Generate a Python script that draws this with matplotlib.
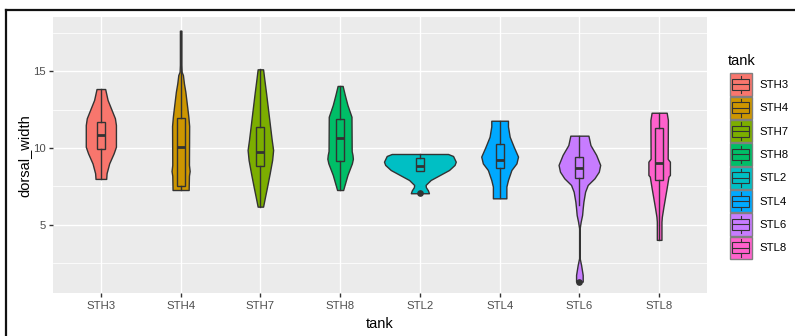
import matplotlib
matplotlib.use("Agg")
import matplotlib.pyplot as plt
import numpy as np
from matplotlib.patches import Patch, Rectangle
from matplotlib.lines import Line2D
from matplotlib.legend_handler import HandlerBase

plt.rcParams['font.family'] = ['Liberation Sans', 'DejaVu Sans']

tanks = ["STH3", "STH4", "STH7", "STH8", "STL2", "STL4", "STL6", "STL8"]
colors = ["#F8766D", "#CD9600", "#7CAE00", "#00BE67",
          "#00BFC4", "#00A9FF", "#C77CFF", "#FF61CC"]

# violin outlines: dorsal_width levels and relative density (half-width)
sth3_y = [7.99, 8.36, 9.0, 9.65, 10.08, 11.49, 11.93, 12.47, 13.12, 13.83]
sth3_d = [5.3, 5.7, 8.3, 12.7, 15.0, 15.0, 14.0, 10.7, 6.7, 4.3]
sth4_y = [7.27, 8.2, 8.5, 8.9, 11.43, 12.03, 12.58, 13.12, 13.66, 14.2, 14.74, 14.95, 15.4, 17.62]
sth4_d = [8.0, 8.3, 9.0, 8.3, 8.5, 7.7, 6.7, 5.7, 4.7, 3.3, 2.3, 1.0, 0.7, 0.7]
sth7_y = [6.19, 6.62, 7.49, 8.36, 9.22, 9.87, 10.52, 11.38, 12.47, 13.55, 14.42, 15.11]
sth7_d = [2.7, 4.0, 6.7, 9.3, 11.7, 12.7, 11.3, 9.7, 7.7, 5.7, 4.0, 2.7]
sth8_y = [7.27, 8.25, 9.0, 9.3, 9.55, 9.8, 12.03, 12.79, 13.44, 14.03]
sth8_d = [3.0, 7.3, 11.7, 12.7, 12.3, 11.5, 11.3, 7.3, 4.7, 2.5]
stl2_y = [7.06, 7.25, 7.45, 7.6, 7.92, 8.25, 8.57, 8.9, 9.11, 9.48, 9.61]
stl2_d = [9.0, 8.0, 6.0, 5.7, 10.7, 20.0, 29.0, 34.5, 35.7, 33.0, 28.0]
stl4_y = [6.73, 7.49, 7.92, 8.57, 9.0, 9.44, 10.08, 10.73, 11.4, 11.77]
stl4_d = [6.7, 6.7, 8.3, 11.7, 16.7, 18.3, 14.0, 10.0, 8.3, 8.3]
stl6_y = [1.32, 1.75, 2.40, 2.84, 4.79, 5.21, 5.65, 6.08, 6.51, 7.16, 7.6, 8.03, 8.46, 8.9, 9.55, 10.19, 10.8]
stl6_d = [3.3, 3.3, 1.7, 0.3, 0.3, 1.3, 2.7, 3.3, 4.0, 5.7, 8.3, 15.0, 19.3, 20.7, 16.7, 11.0, 9.0]
stl8_y = [4.03, 5.21, 5.54, 6.19, 6.84, 7.49, 8.14, 8.25, 9.11, 9.3, 11.82, 12.29]
stl8_d = [2.3, 2.3, 2.7, 4.3, 6.0, 7.7, 9.3, 10.7, 10.7, 8.5, 8.7, 7.5]

violin_y = [sth3_y, sth4_y, sth7_y, sth8_y, stl2_y, stl4_y, stl6_y, stl8_y]
violin_d = [sth3_d, sth4_d, sth7_d, sth8_d, stl2_d, stl4_d, stl6_d, stl8_d]

# boxplot statistics
whislo = [7.99, 7.27, 6.19, 7.27, 8.53, 6.73, 6.30, 4.03]
q1     = [9.92, 7.55, 8.83, 9.16, 8.53, 8.67, 8.07, 7.92]
med    = [10.84, 10.04, 9.76, 10.67, 8.83, 9.25, 8.67, 9.02]
q3     = [11.71, 11.97, 11.38, 11.86, 9.33, 10.24, 9.42, 11.33]
whishi = [13.83, 17.62, 15.11, 14.03, 9.61, 11.77, 10.8, 12.29]
fliers = [[], [], [], [], [7.06], [], [1.32], []]

W, H = 795, 336
fig = plt.figure(figsize=(W / 100, H / 100), dpi=100)
L, R, T, B = 53, 707, 17.3, 293.3
ax = fig.add_axes([L / W, 1 - B / H, (R - L) / W, (B - T) / H])
ax.set_facecolor('#EBEBEB')
for s in ax.spines.values():
    s.set_visible(False)

ax.set_xlim(0.4, 8.6)
ax.set_ylim(0.56, 18.49)

# grid
for yv in [2.5, 7.5, 12.5, 17.5]:
    ax.axhline(yv, color='white', lw=0.55, zorder=0.5)
for yv in [5, 10, 15]:
    ax.axhline(yv, color='white', lw=1.0, zorder=0.6)
for xv in range(1, 9):
    ax.axvline(xv, color='white', lw=1.0, zorder=0.6)

dmax = max(max(d) for d in violin_d)
for i in range(len(tanks)):
    y = np.array(violin_y[i])
    w = np.array(violin_d[i]) / dmax * 0.45
    ax.fill_betweenx(y, i + 1 - w, i + 1 + w, facecolor=colors[i],
                     edgecolor='#333333', lw=1.0, zorder=2)

stats = []
for i in range(len(tanks)):
    stats.append(dict(whislo=whislo[i], q1=q1[i], med=med[i], q3=q3[i],
                      whishi=whishi[i], fliers=fliers[i]))
bp = ax.bxp(stats, positions=list(range(1, 9)), widths=0.1, patch_artist=True,
            showcaps=False, manage_ticks=False,
            boxprops=dict(edgecolor='#333333', lw=1.0, zorder=3),
            whiskerprops=dict(color='#333333', lw=1.0, zorder=3),
            medianprops=dict(color='#333333', lw=2.0, zorder=4),
            flierprops=dict(marker='o', markerfacecolor='#333333',
                            markeredgecolor='#333333', markersize=3.8, zorder=4))
for patch, c in zip(bp['boxes'], colors):
    patch.set_facecolor(c)

ax.set_xticks(range(1, 9))
ax.set_xticklabels(tanks)
ax.set_yticks([5, 10, 15])
ax.tick_params(axis='both', length=2.7, width=1.0, color='#333333',
               labelcolor='#4D4D4D', labelsize=8.2, pad=2.2)
ax.tick_params(axis='x', pad=3.0)

ax.set_xlabel('tank', fontsize=10.5, color='black')
ax.set_ylabel('dorsal_width', fontsize=10.5, color='black')
ax.xaxis.set_label_coords(0.5, -(317 - B) / (B - T))
ax.yaxis.set_label_coords(-(L - 31) / (R - L), 0.5)


class BoxKey(HandlerBase):
    def create_artists(self, legend, orig_handle, xdescent, ydescent,
                       width, height, fontsize, trans):
        c = orig_handle.get_facecolor()
        x0, y0 = -xdescent, -ydescent
        h = height
        outer = Rectangle((x0, y0), width, h, facecolor=c,
                          edgecolor='#808080', lw=1.0, transform=trans)
        inner = Rectangle((x0 + 0.1 * width, y0 + 0.25 * h), 0.8 * width,
                          0.5 * h, facecolor=c, edgecolor='#333333',
                          lw=0.8, transform=trans)
        xm = x0 + 0.5 * width
        mline = Line2D([x0 + 0.1 * width, x0 + 0.9 * width],
                       [y0 + 0.5 * h] * 2, color='#333333', lw=0.8,
                       transform=trans)
        w1 = Line2D([xm, xm], [y0 + 0.1 * h, y0 + 0.25 * h],
                    color='#333333', lw=0.8, transform=trans)
        w2 = Line2D([xm, xm], [y0 + 0.75 * h, y0 + 0.9 * h],
                    color='#333333', lw=0.8, transform=trans)
        return [outer, inner, mline, w1, w2]


handles = [Patch(facecolor=c, label=t) for t, c in zip(tanks, colors)]
leg = fig.legend(handles=handles, handler_map={Patch: BoxKey()},
                 loc='upper left', bbox_to_anchor=(730 / W, 1 - 73.3 / H),
                 frameon=False, fontsize=8.2,
                 handlelength=1.9, handleheight=2.636, labelspacing=0.09,
                 handletextpad=0.7, borderpad=0, borderaxespad=0)
fig.text(728 / W, 1 - 61 / H, 'tank', fontsize=10.5, ha='left', va='center')

# outer frame
fig.add_artist(Line2D([6 / W, 1.0], [1 - 10.3 / H, 1 - 10.3 / H],
                      color='#111111', lw=1.6, transform=fig.transFigure))
fig.add_artist(Line2D([6 / W, 6 / W], [0.0, 1 - 10.3 / H],
                      color='#111111', lw=1.6, transform=fig.transFigure))

fig.savefig('out.png', dpi=100)
